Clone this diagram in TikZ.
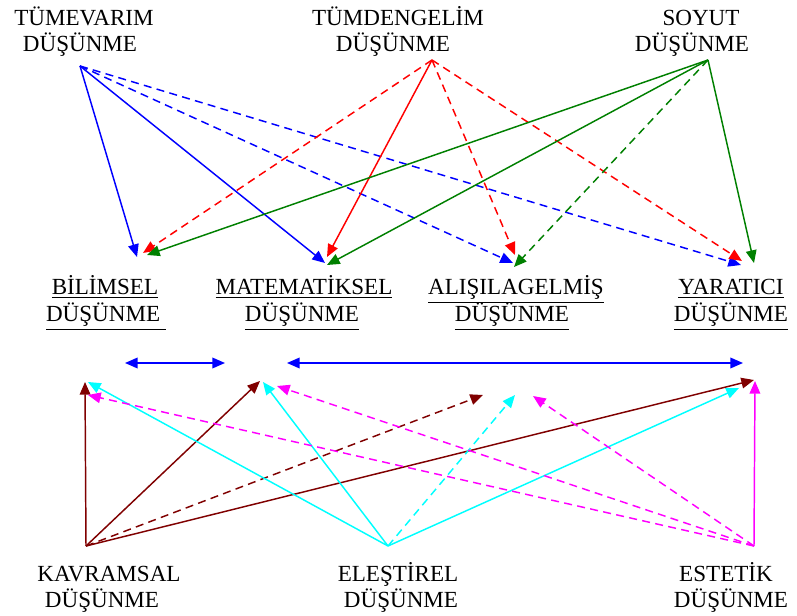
\documentclass[tikz,border=0pt]{standalone}
\usepackage{fontspec}
\setmainfont{Liberation Serif}
\usetikzlibrary{arrows.meta}
\definecolor{cblue}{RGB}{0,0,255}
\definecolor{cred}{RGB}{255,0,0}
\definecolor{cgreen}{RGB}{0,128,0}
\definecolor{cbrown}{RGB}{128,0,0}
\definecolor{ccyan}{RGB}{0,255,255}
\definecolor{cmag}{RGB}{255,0,255}
\begin{document}
\begin{tikzpicture}[x=0.75pt,y=-0.75pt,
  lbl/.style={anchor=base,inner sep=0pt,font=\fontsize{17.3}{20}\selectfont},
  ulbl/.style={lbl},
  con/.style={line width=1.1pt,-{Triangle[length=9.5pt,width=8pt]}},
  dsh/.style={con,dash pattern=on 6pt off 4pt},
  dbl/.style={line width=1.1pt,{Triangle[length=9.5pt,width=8pt]}-{Triangle[length=9.5pt,width=8pt]}}]
\useasboundingbox (0,0) rectangle (797,616);
\fill[white] (0,0) rectangle (797,616);

% labels
\node[lbl] (tv1) at (84,26) {TÜMEVARIM};
\node[lbl] (tv2) at (80,52) {DÜŞÜNME};
\node[lbl] (td1) at (398,26) {TÜMDENGELİM};
\node[lbl] (td2) at (393,52) {DÜŞÜNME};
\node[lbl] (so1) at (701,26) {SOYUT};
\node[lbl] (so2) at (692,52) {DÜŞÜNME};

\node[ulbl] (bi1) at (105,295) {\underline{BİLİMSEL}};
\node[ulbl] (bi2) at (106,322) {\underline{DÜŞÜNME\ }};
\node[ulbl] (ma1) at (304,295) {\underline{MATEMATİKSEL}};
\node[ulbl] (ma2) at (302,322) {\underline{DÜŞÜNME}};
\node[ulbl] (al1) at (516,295) {\underline{ALIŞILAGELMİŞ}};
\node[ulbl] (al2) at (512,322) {\underline{DÜŞÜNME}};
\node[ulbl] (ya1) at (731,295) {\underline{YARATICI}};
\node[ulbl] (ya2) at (731,322) {\underline{DÜŞÜNME}};

\node[lbl] (kv1) at (109,582) {KAVRAMSAL};
\node[lbl] (kv2) at (102,608) {DÜŞÜNME};
\node[lbl] (el1) at (398,582) {ELEŞTİREL};
\node[lbl] (el2) at (401,608) {DÜŞÜNME};
\node[lbl] (es1) at (726,582) {ESTETİK};
\node[lbl] (es2) at (731,608) {DÜŞÜNME};

% source points
\coordinate (tv) at (80,66);
\coordinate (td) at (432,60);
\coordinate (so) at (708,60);
\coordinate (kv) at (86,546);
\coordinate (el) at (388,546);
\coordinate (es) at (754,546);

% top targets
\coordinate (biB) at (137,257);
\coordinate (biR) at (143,253);
\coordinate (biG) at (147,255);
\coordinate (maB) at (325,263);
\coordinate (maR) at (327,257);
\coordinate (maG) at (327,265);
\coordinate (alB) at (513,263);
\coordinate (alR) at (515,255);
\coordinate (alG) at (514,267);
\coordinate (yaB) at (741,265);
\coordinate (yaR) at (742,261);
\coordinate (yaG) at (754,263);

% bottom targets
\coordinate (t1K) at (85,382);
\coordinate (t1C) at (88,382);
\coordinate (t1M) at (88,395);
\coordinate (t2K) at (260,381);
\coordinate (t2C) at (263,382);
\coordinate (t2M) at (277,386);
\coordinate (t3K) at (483,395);
\coordinate (t3C) at (515,395);
\coordinate (t3M) at (533,396);
\coordinate (t4K) at (754,380);
\coordinate (t4C) at (739,388);
\coordinate (t4M) at (755,381);

% horizontal double arrows
\coordinate (h1a) at (125,363);
\coordinate (h1b) at (225,363);
\coordinate (h2a) at (287,363);
\coordinate (h2b) at (743,363);
\draw[dbl,cblue] (h1a) -- (h1b);
\draw[dbl,cblue] (h2a) -- (h2b);

% TÜMEVARIM
\draw[con,cblue] (tv) -- (biB);
\draw[con,cblue] (tv) -- (maB);
\draw[dsh,cblue] (tv) -- (alB);
\draw[dsh,cblue] (tv) -- (yaB);
% TÜMDENGELİM
\draw[dsh,cred] (td) -- (biR);
\draw[con,cred] (td) -- (maR);
\draw[dsh,cred] (td) -- (alR);
\draw[dsh,cred] (td) -- (yaR);
% SOYUT
\draw[con,cgreen] (so) -- (biG);
\draw[con,cgreen] (so) -- (maG);
\draw[dsh,cgreen] (so) -- (alG);
\draw[con,cgreen] (so) -- (yaG);

% KAVRAMSAL
\draw[con,cbrown] (kv) -- (t1K);
\draw[con,cbrown] (kv) -- (t2K);
\draw[dsh,cbrown] (kv) -- (t3K);
\draw[con,cbrown] (kv) -- (t4K);
% ELEŞTİREL
\draw[con,ccyan] (el) -- (t1C);
\draw[con,ccyan] (el) -- (t2C);
\draw[dsh,ccyan] (el) -- (t3C);
\draw[con,ccyan] (el) -- (t4C);
% ESTETİK
\draw[dsh,cmag] (es) -- (t1M);
\draw[dsh,cmag] (es) -- (t2M);
\draw[dsh,cmag] (es) -- (t3M);
\draw[con,cmag] (es) -- (t4M);
\end{tikzpicture}
\end{document}
